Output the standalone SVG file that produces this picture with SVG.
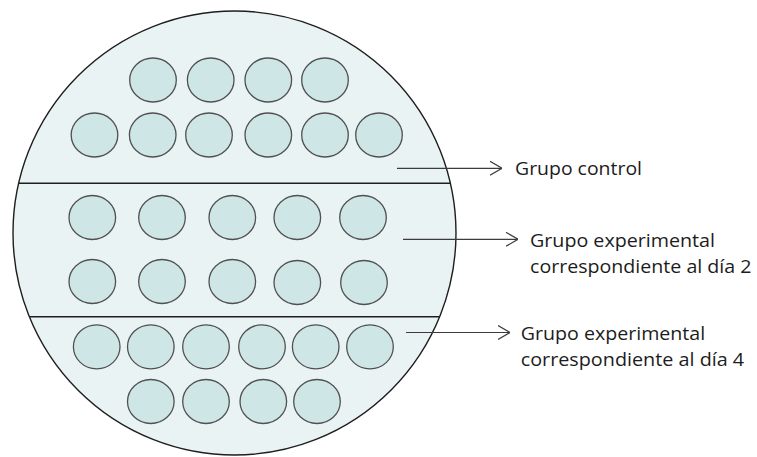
<svg xmlns="http://www.w3.org/2000/svg" width="757" height="457" viewBox="0 0 757 457">
<defs>
<style>
.dish{fill:#eaf3f4;stroke:#1e1e1e;stroke-width:1.4}
.div{stroke:#1e1e1e;stroke-width:1.4;fill:none}
.cell{fill:#cfe6e6;stroke:#505050;stroke-width:1.3}
.conn{stroke:#3c3c3c;stroke-width:1.2;fill:none}
.lbl{font-family:"Open Sans","Noto Sans",sans-serif;font-size:19px;fill:#1c1c1c}
</style>
<marker id="chev" viewBox="0 0 12 16" refX="12" refY="8" markerWidth="12" markerHeight="16" markerUnits="userSpaceOnUse" orient="auto">
<path d="M0,1 L12,8 L0,15" fill="none" stroke="#3c3c3c" stroke-width="1.2"/>
</marker>
</defs>
<rect width="757" height="457" fill="#ffffff"/>
<g id="dish">
<ellipse class="dish" cx="234.5" cy="233" rx="221.5" ry="222"/>
<line class="div" x1="19" y1="183.3" x2="451" y2="183.3"/>
<line class="div" x1="29.5" y1="316.7" x2="440" y2="316.7"/>
</g>
<g id="grupo-control-cells">
<ellipse class="cell" cx="153" cy="80" rx="23.3" ry="22"/>
<ellipse class="cell" cx="210.7" cy="80" rx="23.3" ry="22"/>
<ellipse class="cell" cx="268.3" cy="80" rx="23.3" ry="22"/>
<ellipse class="cell" cx="325" cy="80" rx="23.3" ry="22"/>
<ellipse class="cell" cx="94.5" cy="135" rx="23.3" ry="22"/>
<ellipse class="cell" cx="152.7" cy="135" rx="23.3" ry="22"/>
<ellipse class="cell" cx="209" cy="135" rx="23.3" ry="22"/>
<ellipse class="cell" cx="268.3" cy="135" rx="23.3" ry="22"/>
<ellipse class="cell" cx="325" cy="135" rx="23.3" ry="22"/>
<ellipse class="cell" cx="379" cy="135" rx="23.3" ry="22"/>
</g>
<g id="dia2-cells">
<ellipse class="cell" cx="92.3" cy="217.5" rx="23.3" ry="22"/>
<ellipse class="cell" cx="162" cy="217.5" rx="23.3" ry="22"/>
<ellipse class="cell" cx="232.3" cy="217.5" rx="23.3" ry="22"/>
<ellipse class="cell" cx="297.3" cy="217.5" rx="23.3" ry="22"/>
<ellipse class="cell" cx="363" cy="217.5" rx="23.3" ry="22"/>
<ellipse class="cell" cx="92.3" cy="281.5" rx="23.3" ry="22"/>
<ellipse class="cell" cx="162" cy="281.5" rx="23.3" ry="22"/>
<ellipse class="cell" cx="232.3" cy="281.5" rx="23.3" ry="22"/>
<ellipse class="cell" cx="297.3" cy="282.5" rx="23.3" ry="22"/>
<ellipse class="cell" cx="364" cy="282.5" rx="23.3" ry="22"/>
</g>
<g id="dia4-cells">
<ellipse class="cell" cx="96.7" cy="346.8" rx="23.3" ry="22"/>
<ellipse class="cell" cx="150.8" cy="346.8" rx="23.3" ry="22"/>
<ellipse class="cell" cx="206" cy="346.8" rx="23.3" ry="22"/>
<ellipse class="cell" cx="262" cy="346.8" rx="23.3" ry="22"/>
<ellipse class="cell" cx="315.7" cy="346.8" rx="23.3" ry="22"/>
<ellipse class="cell" cx="370" cy="346.8" rx="23.3" ry="22"/>
<ellipse class="cell" cx="150.8" cy="401.5" rx="23.3" ry="22"/>
<ellipse class="cell" cx="206" cy="401.5" rx="23.3" ry="22"/>
<ellipse class="cell" cx="263.3" cy="401.5" rx="23.3" ry="22"/>
<ellipse class="cell" cx="317" cy="401.5" rx="23.3" ry="22"/>
</g>
<g id="connectors">
<line class="conn" x1="397" y1="168.3" x2="502" y2="168.3" marker-end="url(#chev)"/>
<line class="conn" x1="403" y1="239.3" x2="518" y2="239.3" marker-end="url(#chev)"/>
<line class="conn" x1="406" y1="332.5" x2="510" y2="332.5" marker-end="url(#chev)"/>
</g>
<g id="label-control">
<text class="lbl" x="515" y="175" textLength="127" lengthAdjust="spacingAndGlyphs">Grupo control</text>
</g>
<g id="label-dia2">
<text class="lbl" x="530" y="247" textLength="185" lengthAdjust="spacingAndGlyphs">Grupo experimental</text>
<text class="lbl" x="530" y="272.5" textLength="221.5" lengthAdjust="spacingAndGlyphs">correspondiente al día 2</text>
</g>
<g id="label-dia4">
<text class="lbl" x="520.7" y="340" textLength="184.5" lengthAdjust="spacingAndGlyphs">Grupo experimental</text>
<text class="lbl" x="520.7" y="366" textLength="223.5" lengthAdjust="spacingAndGlyphs">correspondiente al día 4</text>
</g>
</svg>
